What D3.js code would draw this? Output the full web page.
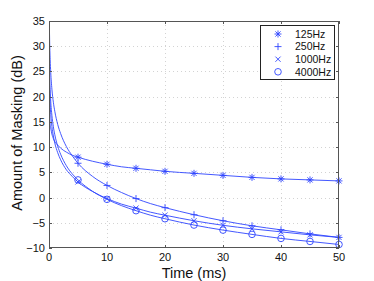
<!DOCTYPE html>
<html><head><meta charset="utf-8">
<script src="https://cdn.jsdelivr.net/npm/d3@7"></script>
<style>body{margin:0;background:#fff}svg{display:block}text{font-family:"Liberation Sans",Arial,sans-serif}</style>
</head><body><svg id="c" width="374" height="281"></svg>
<script>
const times = [0.005,0.02,0.05,0.1,0.2,0.3,0.5,0.75,1,1.5,2,3,4,5,7.5,10,12.5,15,17.5,20,25,30,35,40,45,50];
const s125  = [22,19.5,17.5,16,14.5,13.8,12.6,11.7,11.1,10.4,9.8,9.0,8.4,8.0,7.2,6.6,6.1,5.8,5.5,5.2,4.8,4.4,4.0,3.7,3.5,3.3];
const s250  = [51,42,36.2,31.8,27.4,24.8,21.5,18.9,17.1,14.5,12.7,10.1,8.3,6.8,4.2,2.4,1.0,-0.2,-1.2,-2.0,-3.4,-4.6,-5.6,-6.4,-7.2,-7.9];
const s1000 = [36.1,29.5,25.1,21.8,18.5,16.5,14.1,12.2,10.8,8.9,7.5,5.5,4.2,3.1,1.2,-0.2,-1.3,-2.1,-2.9,-3.5,-4.6,-5.5,-6.2,-6.8,-7.4,-7.9];
const s4000 = [41.9,34.2,29.1,25.2,21.4,19.1,16.3,14.05,12.45,10.2,8.6,6.3,4.7,3.5,1.25,-0.35,-1.6,-2.6,-3.5,-4.2,-5.45,-6.45,-7.3,-8.1,-8.7,-9.3];
const markerTimes = [5,10,15,20,25,30,35,40,45,50];
const seriesNames = ["125Hz","250Hz","1000Hz","4000Hz"];
const seriesMarkers = ["asterisk","plus","cross","circle"];
const xTicks = [0,10,20,30,40,50];
const yTicks = [-10,-5,0,5,10,15,20,25,30,35];

const series = [s125,s250,s1000,s4000];
const svg = d3.select("#c");
const L=49,R=339,T=21,B=248;
const x = d3.scaleLinear().domain([0,50]).range([L,R]);
const y = d3.scaleLinear().domain([-10,35]).range([B,T]);
const blue = "#2f45ff";
const axisCol = "#555";

// grid
const g = svg.append("g");
g.selectAll(".gx").data(xTicks.slice(1,-1)).join("line")
 .attr("x1",d=>x(d)+0.5).attr("x2",d=>x(d)+0.5).attr("y1",T).attr("y2",B)
 .attr("stroke","#c8c8c8").attr("stroke-width",0.8).attr("stroke-dasharray","1,3");
g.selectAll(".gy").data(yTicks.slice(1,-1)).join("line")
 .attr("y1",d=>Math.round(y(d))+0.5).attr("y2",d=>Math.round(y(d))+0.5).attr("x1",L).attr("x2",R)
 .attr("stroke","#c8c8c8").attr("stroke-width",0.8).attr("stroke-dasharray","1,3");

// clip
svg.append("clipPath").attr("id","clip").append("rect").attr("x",L).attr("y",T).attr("width",R-L).attr("height",B-T);

const line = d3.line().x((d,i)=>x(times[i])).y(d=>y(d)).curve(d3.curveMonotoneX);
const plot = svg.append("g").attr("clip-path","url(#clip)");
series.forEach(s=>{
  plot.append("path").attr("d",line(s)).attr("fill","none").attr("stroke",blue).attr("stroke-width",0.9);
});

function drawMarker(sel,type,cx,cy){
  const gg = sel.append("g").attr("transform",`translate(${cx},${cy})`).attr("stroke",blue).attr("fill","none").attr("stroke-width",0.9);
  if(type==="plus"||type==="asterisk"){
    gg.append("line").attr("x1",-3.5).attr("x2",3.5).attr("y1",0).attr("y2",0);
    gg.append("line").attr("y1",-3.5).attr("y2",3.5).attr("x1",0).attr("x2",0);
  }
  if(type==="cross"||type==="asterisk"){
    const r = 2.6;
    gg.append("line").attr("x1",-r).attr("x2",r).attr("y1",-r).attr("y2",r);
    gg.append("line").attr("x1",-r).attr("x2",r).attr("y1",r).attr("y2",-r);
  }
  if(type==="circle"){
    gg.append("circle").attr("r",3.3);
  }
}
series.forEach((s,k)=>{
  markerTimes.forEach(t=>{
    const i = times.indexOf(t);
    drawMarker(svg,seriesMarkers[k],x(t),y(s[i]));
  });
});

// box
svg.append("rect").attr("x",L+0.5).attr("y",T+0.5).attr("width",R-L-1).attr("height",B-T-1)
 .attr("fill","none").attr("stroke",axisCol).attr("stroke-width",1);
// ticks
xTicks.forEach(t=>{
  const px=Math.round(x(t))+0.5;
  svg.append("line").attr("x1",px).attr("x2",px).attr("y1",B).attr("y2",B-3).attr("stroke",axisCol);
  svg.append("line").attr("x1",px).attr("x2",px).attr("y1",T).attr("y2",T+3).attr("stroke",axisCol);
  svg.append("text").attr("x",x(t)).attr("y",B+13).attr("text-anchor","middle").attr("font-size",11).attr("fill","#111").text(t);
});
yTicks.forEach(t=>{
  const py=Math.round(y(t))+0.5;
  svg.append("line").attr("x1",L).attr("x2",L+3).attr("y1",py).attr("y2",py).attr("stroke",axisCol);
  svg.append("line").attr("x1",R-3).attr("x2",R).attr("y1",py).attr("y2",py).attr("stroke",axisCol);
  svg.append("text").attr("x",L-4).attr("y",y(t)+4).attr("text-anchor","end").attr("font-size",11).attr("fill","#111").text(t<0?"\u2212"+(-t):t);
});

// labels
svg.append("text").attr("x",194).attr("y",278).attr("text-anchor","middle").attr("font-size",14.5).attr("fill","#111").text("Time (ms)");
svg.append("text").attr("transform","translate(22,133) rotate(-90)").attr("text-anchor","middle").attr("font-size",14.5).attr("fill","#111").text("Amount of Masking (dB)");

// legend
const lg = svg.append("g");
lg.append("rect").attr("x",260.5).attr("y",25.5).attr("width",74).attr("height",54).attr("fill","#fff").attr("stroke","#222").attr("stroke-width",1);
seriesNames.forEach((n,k)=>{
  const yy = 34 + k*12.6;
  drawMarker(lg,seriesMarkers[k],278,yy);
  lg.append("text").attr("x",295).attr("y",yy+3.7).attr("font-size",10.5).attr("fill","#111").text(n);
});
</script></body></html>
